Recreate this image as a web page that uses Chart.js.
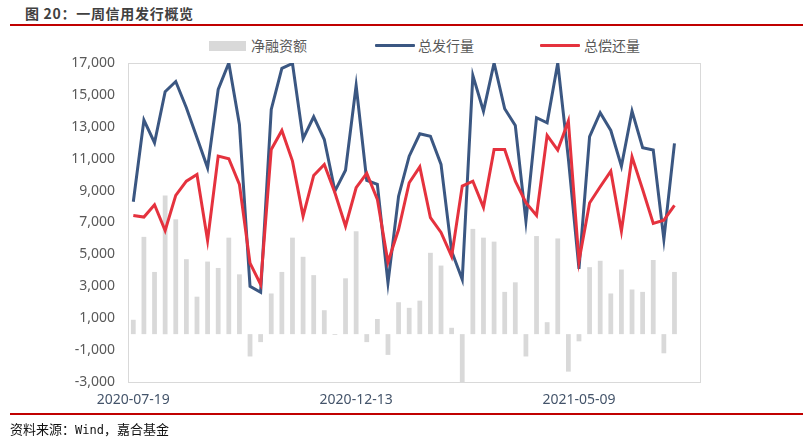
<!DOCTYPE html>
<html>
<head>
<meta charset="utf-8">
<script src="https://cdn.jsdelivr.net/npm/chart.js@4.4.1/dist/chart.umd.min.js"></script>
<style>
  body { margin: 0; width: 803px; height: 440px; position: relative; background: #fff; overflow: hidden; }
  #chart { position: absolute; left: 0; top: 0; }
  .rule { position: absolute; left: 10px; right: 0; height: 2px; background: #c00000; }
  #title { position: absolute; left: 25px; top: 3px; font: bold 14px "Noto Sans CJK SC", sans-serif; letter-spacing: 0.7px; color: #404040; }
  #source { position: absolute; left: 10px; top: 419px; font: 13px "Noto Sans CJK SC", sans-serif; color: #111; }
  #source .mono { font-family: "DejaVu Sans Mono", monospace; font-size: 12px; }
  .legend-item { position: absolute; top: 36px; font: 14px "Noto Sans CJK SC", sans-serif; color: #595959; line-height: 18px; }
  .swatch { position: absolute; }
</style>
</head>
<body>
<div id="title">图 20：一周信用发行概览</div>
<div class="rule" style="top:24px"></div>

<div class="swatch" style="left:209px;top:41px;width:37px;height:10px;background:#d9d9d9"></div>
<div class="legend-item" style="left:251px">净融资额</div>
<div class="swatch" style="left:375px;top:44px;width:40px;height:3px;background:#3b5782;border-radius:1px"></div>
<div class="legend-item" style="left:418px">总发行量</div>
<div class="swatch" style="left:540px;top:44px;width:40px;height:3px;background:#e5323e;border-radius:1px"></div>
<div class="legend-item" style="left:584px">总偿还量</div>

<canvas id="chart" width="803" height="440"></canvas>

<div class="rule" style="top:413px"></div>
<div id="source">资料来源：<span class="mono">Wind</span>，嘉合基金</div>

<script>
// weekly data, first week 2020-07-19 (last two weeks empty)
const START_DATE = "2020-07-19";
const WEEK_COUNT = 54;
const LABEL_STEP = 21;

const netFinancing = [
  900, 6100, 3900, 8700, 7200, 4700, 2350, 4550, 4150, 6050,
  3750, -1400, -500, 2550, 3900, 6050, 4850, 3700, 1500, -50,
  3500, 6450, -500, 950, -1300, 2000, 1650, 2100, 5100, 4300,
  400, -5850, 6600, 6050, 5800, 2650, 3250, -1400, 6150, 750,
  6000, -2350, -450, 4200, 4600, 2550, 4050, 2800, 2650, 4650,
  -1200, 3900, null, null
];
const totalIssued = [
  8300, 13420, 12000, 15200, 15840, 14200, 12310, 10430, 15340, 17000,
  13150, 3000, 2630, 14090, 16660, 16970, 12250, 13630, 12200, 8970,
  10280, 15590, 9640, 9390, 3220, 8650, 11160, 12560, 12410, 10640,
  5200, 3430, 16220, 13980, 17000, 14130, 13080, 7090, 13570, 13250,
  17000, 11000, 4100, 12380, 13880, 12770, 10530, 13980, 11690, 11540,
  5940, 11960, null, null
];
const totalRepaid = [
  7440, 7340, 8110, 6500, 8700, 9590, 10010, 5880, 11160, 11000,
  9390, 4450, 3120, 11580, 12770, 10850, 7400, 9950, 10640, 8860,
  6770, 9180, 10080, 8450, 4510, 6560, 9490, 10490, 7300, 6380,
  4870, 9280, 9590, 7950, 11580, 11580, 9590, 8240, 7440, 12460,
  11540, 13360, 4580, 8220, 9240, 10220, 6460, 11120, 9070, 6940,
  7150, 8070, null, null
];

// Helper: weekly date labels YYYY-MM-DD
function getWeekLabels(start, count) {
  const labels = [];
  const d = new Date(start + "T00:00:00Z");
  for (let i = 0; i < count; i++) {
    labels.push(d.toISOString().split("T")[0]);
    d.setUTCDate(d.getUTCDate() + 7);
  }
  return labels;
}
const weekLabels = getWeekLabels(START_DATE, WEEK_COUNT);

// plot frame (light grey box round the chart area)
const frameBox = {
  id: "frameBox",
  beforeDatasetsDraw(chart) {
    const { ctx, chartArea: a } = chart;
    ctx.save();
    ctx.strokeStyle = "#d9d9d9";
    ctx.lineWidth = 1;
    ctx.strokeRect(a.left + 0.5, a.top + 0.5, a.right - a.left - 1, a.bottom - a.top);
    ctx.restore();
  },
};

Chart.defaults.font.family = "'Noto Sans', 'Noto Sans CJK SC', sans-serif";
Chart.defaults.font.size = 14;

new Chart(document.getElementById("chart"), {
  data: {
    labels: weekLabels,
    datasets: [
      {
        type: "line",
        label: "总偿还量",
        data: totalRepaid,
        borderColor: "#e5323e",
        borderWidth: 3,
        pointRadius: 0,
        tension: 0,
        order: 1,
      },
      {
        type: "line",
        label: "总发行量",
        data: totalIssued,
        borderColor: "#3b5782",
        borderWidth: 3,
        pointRadius: 0,
        tension: 0,
        order: 2,
      },
      {
        type: "bar",
        label: "净融资额",
        data: netFinancing,
        backgroundColor: "#d9d9d9",
        categoryPercentage: 1,
        barPercentage: 0.45,
        order: 3,
      },
    ],
  },
  options: {
    responsive: false,
    animation: false,
    layout: { padding: { top: 63, right: 102, bottom: 0, left: 0 } },
    plugins: {
      legend: { display: false },
      tooltip: { enabled: false },
    },
    scales: {
      x: {
        offset: true,
        grid: { display: false, drawTicks: false },
        border: { display: false },
        ticks: {
          autoSkip: false,
          maxRotation: 0,
          padding: 10,
          color: "#44546a",
          callback: function (value, index) {
            return index % LABEL_STEP === 0 ? weekLabels[index] : "";
          },
        },
        afterFit(scale) { scale.height = 58; },
      },
      y: {
        min: -3000,
        max: 17000,
        grid: { display: false, drawTicks: false },
        border: { display: false },
        ticks: {
          stepSize: 2000,
          padding: 13,
          color: "#595959",
          callback: (v) => v.toLocaleString("en-US"),
        },
        afterFit(scale) { scale.width = 128; },
      },
    },
  },
  plugins: [frameBox],
});
</script>
</body>
</html>
